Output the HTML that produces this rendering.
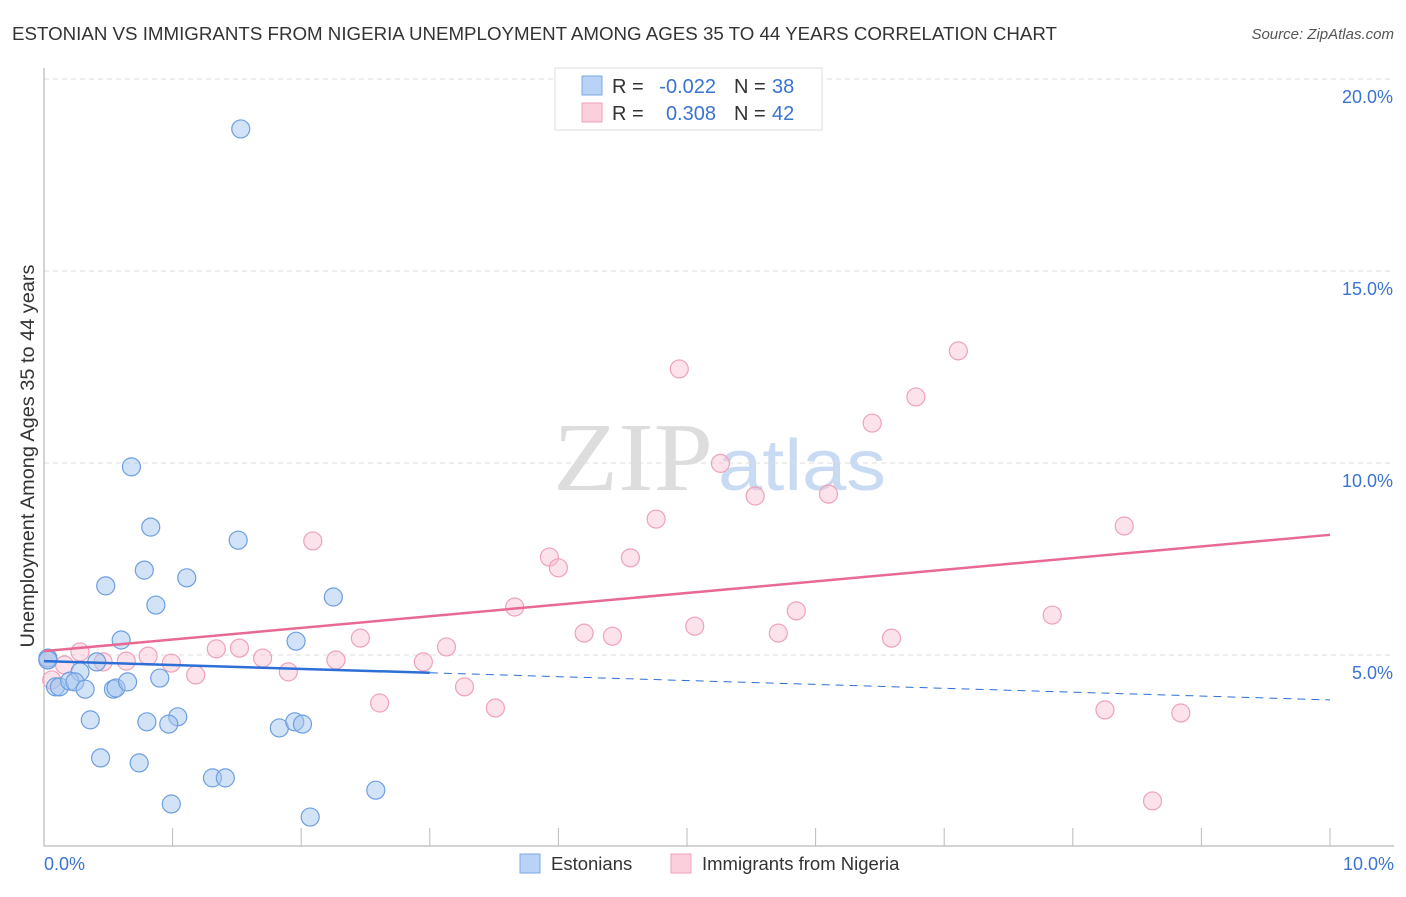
<!DOCTYPE html>
<html><head><meta charset="utf-8"><style>
body{margin:0;background:#fff;font-family:"Liberation Sans",sans-serif}
</style></head><body>
<svg id="c" width="1406" height="892" xmlns="http://www.w3.org/2000/svg">
<text x="12" y="40" font-size="18.6" fill="#333" textLength="1045" lengthAdjust="spacingAndGlyphs">ESTONIAN VS IMMIGRANTS FROM NIGERIA UNEMPLOYMENT AMONG AGES 35 TO 44 YEARS CORRELATION CHART</text>
<text x="1394" y="39" font-size="15" fill="#555" font-style="italic" text-anchor="end">Source: ZipAtlas.com</text>
<text x="553" y="490" font-size="98" fill="#ddd" textLength="160" lengthAdjust="spacingAndGlyphs" font-family="Liberation Serif">ZIP</text>
<text x="718" y="490" font-size="72" fill="#c9dbf3" textLength="168" lengthAdjust="spacingAndGlyphs">atlas</text>
<g id="grid"></g><g id="axes"></g><g id="pts"></g><g id="lines"></g>
<text transform="translate(34,456) rotate(-90)" font-size="19" fill="#333" text-anchor="middle" textLength="383" lengthAdjust="spacingAndGlyphs">Unemployment Among Ages 35 to 44 years</text>
<text x="44" y="870" font-size="18" fill="#3b73d1">0.0%</text>
<text x="1394" y="870" font-size="18" fill="#3b73d1" text-anchor="end">10.0%</text>
<g font-size="20">
<rect x="555" y="68" width="267" height="62" fill="#fff" stroke="#ddd"/>
<rect x="582" y="76" width="20" height="19" fill="#b8d3f5" stroke="#7aa7e6"/>
<rect x="582" y="103" width="20" height="19" fill="#fbd0dc" stroke="#f0a0b8"/>
<text x="612" y="93" fill="#333">R =</text>
<text x="716" y="93" fill="#3b73d1" text-anchor="end">-0.022</text>
<text x="734" y="93" fill="#333">N =</text>
<text x="772" y="93" fill="#3b73d1">38</text>
<text x="612" y="120" fill="#333">R =</text>
<text x="716" y="120" fill="#3b73d1" text-anchor="end">0.308</text>
<text x="734" y="120" fill="#333">N =</text>
<text x="772" y="120" fill="#3b73d1">42</text>
</g>
<g>
<rect x="520" y="854" width="20" height="19" fill="#b8d3f5" stroke="#7aa7e6"/>
<text x="551" y="870" font-size="18.5" fill="#333">Estonians</text>
<rect x="671" y="854" width="20" height="19" fill="#fbd0dc" stroke="#f0a0b8"/>
<text x="702" y="870" font-size="18.5" fill="#333">Immigrants from Nigeria</text>
</g>
</svg>
<script>
const yTicks=[5,10,15,20];
const yTickLabels=["5.0%","10.0%","15.0%","20.0%"];
const estX=[1.53,0.68,0.83,1.51,0.48,0.78,1.11,0.87,2.25,0.60,1.96,0.41,0.28,0.03,0.09,0.12,0.20,0.24,0.32,0.54,0.56,0.65,0.90,1.04,0.36,0.80,0.97,1.83,1.95,2.01,0.44,0.74,1.31,1.41,2.58,0.99,2.07,0.03];
const estY=[18.70,9.90,8.33,7.99,6.80,7.21,7.01,6.30,6.51,5.39,5.36,4.82,4.56,4.92,4.17,4.17,4.32,4.30,4.11,4.11,4.14,4.30,4.40,3.39,3.31,3.26,3.20,3.10,3.26,3.20,2.32,2.19,1.80,1.80,1.48,1.12,0.78,4.87];
const nigX=[0.03,0.28,0.06,0.16,0.46,0.64,0.81,0.99,1.18,1.34,1.52,1.70,1.90,2.09,2.27,2.46,2.61,2.95,3.13,3.27,3.51,3.66,3.93,4.00,4.20,4.42,4.56,4.76,4.94,5.06,5.26,5.53,5.71,5.85,6.10,6.44,6.59,6.78,7.11,7.84,8.25,8.40,8.62,8.84];
const nigY=[4.87,5.08,4.35,4.74,4.82,4.84,4.97,4.79,4.48,5.16,5.18,4.92,4.56,7.97,4.87,5.44,3.75,4.82,5.21,4.17,3.62,6.25,7.55,7.27,5.57,5.49,7.53,8.54,12.45,5.75,9.99,9.14,5.57,6.15,9.19,11.04,5.44,11.72,12.92,6.04,3.57,8.36,1.20,3.49];
const estTrend=[4.84,3.83];
const nigTrend=[5.10,8.13];
const X0=44,X1=1330,Y0=847,PXY=38.4;
const sx=v=>X0+(v/10)*(X1-X0), sy=v=>Y0-v*PXY;
const NS="http://www.w3.org/2000/svg";
function mk(t,a,p){const e=document.createElementNS(NS,t);for(const k in a)e.setAttribute(k,a[k]);p.appendChild(e);return e;}
const grid=document.getElementById('grid'),axes=document.getElementById('axes'),pts=document.getElementById('pts'),lines=document.getElementById('lines');
yTicks.forEach((t,i)=>{
 const l=mk('line',{x1:44,x2:1394,y1:sy(t),y2:sy(t),stroke:'#ddd','stroke-dasharray':'5,4'},grid);
 
 
 const tx=mk('text',{x:1393,y:sy(t)+24,'font-size':18,fill:'#3b73d1','text-anchor':'end'},grid);
 tx.textContent=yTickLabels[i];
 
 
});
const ax=mk('line',{x1:44,x2:44,y1:68,y2:846,stroke:'#aaa'},axes);


const bx=mk('line',{x1:44,x2:1394,y1:846,y2:846,stroke:'#aaa'},axes);


for(let i=1;i<=10;i++){const t=mk('line',{x1:sx(i),x2:sx(i),y1:828,y2:846,stroke:'#bbb'},axes);
 
 }
nigX.forEach((x,i)=>{const c=mk('circle',{cx:sx(x),cy:sy(nigY[i]),r:9,fill:'rgba(248,190,208,0.45)',stroke:'#eea2b9','stroke-width':1.2},pts);
 
 });
estX.forEach((x,i)=>{const c=mk('circle',{cx:sx(x),cy:sy(estY[i]),r:9,fill:'rgba(165,198,240,0.5)',stroke:'#6d9fe0','stroke-width':1.2},pts);
 
 });
const ey=x=>estTrend[0]+(estTrend[1]-estTrend[0])*x/10;
const l1=mk('line',{x1:sx(0),y1:sy(ey(0)),x2:sx(3),y2:sy(ey(3)),stroke:'#2c6fd6','stroke-width':2.5},lines);


const l2=mk('line',{x1:sx(3),y1:sy(ey(3)),x2:sx(10),y2:sy(ey(10)),stroke:'#2c6fd6','stroke-width':1,'stroke-dasharray':'8,6'},lines);


const l3=mk('line',{x1:sx(0),y1:sy(nigTrend[0]),x2:sx(10),y2:sy(nigTrend[1]),stroke:'#e86a93','stroke-width':2.5},lines);


</script>
</body></html>
